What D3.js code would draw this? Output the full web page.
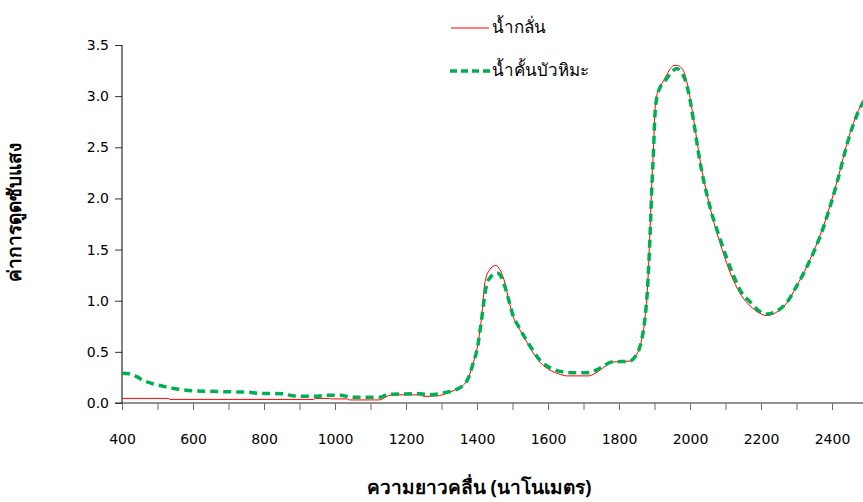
<!DOCTYPE html>
<html>
<head>
<meta charset="utf-8">
<script src="https://cdn.jsdelivr.net/npm/d3@7"></script>
<style>
  body { margin: 0; background: #fff; }
  svg { display: block; }
  .tick text { font-family: "DejaVu Sans", sans-serif; font-size: 14px; fill: #000; }
  .title { font-family: "Noto Sans", "DejaVu Sans", sans-serif; font-weight: bold; font-size: 19px; fill: #000; }
  .legend { font-family: "Noto Sans", "DejaVu Sans", sans-serif; font-size: 17px; fill: #000; }
</style>
</head>
<body>
<script>
// series names (legend)
const seriesNames = ['น้ำกลั่น', 'น้ำคั้นบัวหิมะ'];

// distilled water (red)
const waterNm = [400, 530, 535, 940, 945, 985, 990, 1035, 1040, 1125, 1150, 1165, 1240, 1250, 1290, 1310,
  1340, 1360, 1375, 1390, 1400, 1413, 1422, 1435, 1453, 1465, 1479, 1490, 1502, 1520, 1540, 1560, 1577,
  1606, 1630, 1653, 1714, 1730, 1746, 1765, 1779, 1831, 1845, 1856, 1864, 1873, 1880, 1887, 1893, 1897,
  1901, 1906, 1915, 1930, 1945, 1955, 1965, 1975, 1985, 1995, 2009, 2028, 2056, 2085, 2122, 2145,
  2169, 2195, 2216, 2240, 2272, 2300, 2329, 2376, 2413, 2451, 2488, 2500];
const waterAbs = [0.045, 0.045, 0.035, 0.035, 0.045, 0.045, 0.04, 0.04, 0.03, 0.03, 0.07, 0.08, 0.08, 0.065, 0.07, 0.09,
  0.13, 0.17, 0.24, 0.40, 0.53, 0.84, 1.17, 1.30, 1.345, 1.30, 1.17, 1.00, 0.845, 0.72, 0.60, 0.48, 0.40,
  0.32, 0.285, 0.265, 0.265, 0.285, 0.32, 0.37, 0.40, 0.41, 0.45, 0.52, 0.62, 0.82, 1.10, 1.66, 2.20, 2.48,
  2.84, 3.00, 3.08, 3.18, 3.27, 3.30, 3.30, 3.28, 3.22, 3.08, 2.80, 2.38, 1.92, 1.56, 1.20, 1.05,
  0.95, 0.88, 0.855, 0.88, 0.976, 1.14, 1.335, 1.73, 2.15, 2.64, 2.95, 3.00];

// snow lotus juice (green, dashed)
const juiceNm = [400, 420, 440, 460, 490, 520, 560, 600, 700, 760, 780, 860, 880, 950, 975, 1015, 1050, 1127,
  1150, 1240, 1268, 1300, 1340, 1360, 1375, 1390, 1400, 1413, 1425, 1440, 1457, 1470, 1482, 1502, 1520,
  1540, 1560, 1577, 1606, 1640, 1680, 1714, 1746, 1779, 1831, 1845, 1856, 1864, 1873, 1880, 1887, 1893,
  1897, 1901, 1906, 1915, 1930, 1950, 1962, 1972, 1985, 1997, 2009, 2028, 2056, 2085, 2122, 2145, 2169,
  2195, 2216, 2240, 2272, 2300, 2329, 2376, 2413, 2451, 2488, 2500];
const juiceAbs = [0.29, 0.285, 0.26, 0.22, 0.185, 0.16, 0.135, 0.12, 0.11, 0.105, 0.095, 0.09, 0.07, 0.065, 0.075, 0.075, 0.055, 0.055,
  0.085, 0.09, 0.08, 0.095, 0.13, 0.17, 0.24, 0.40, 0.52, 0.82, 1.12, 1.24, 1.27, 1.22, 1.10, 0.85, 0.73,
  0.61, 0.50, 0.42, 0.345, 0.305, 0.295, 0.295, 0.34, 0.40, 0.41, 0.45, 0.52, 0.62, 0.82, 1.10, 1.60, 2.15,
  2.45, 2.80, 2.98, 3.08, 3.15, 3.24, 3.27, 3.25, 3.17, 3.02, 2.78, 2.36, 1.92, 1.60, 1.25, 1.08, 0.99,
  0.90, 0.87, 0.89, 0.98, 1.14, 1.33, 1.72, 2.14, 2.63, 2.94, 2.99];

const xTickLabels = [400, 600, 800, 1000, 1200, 1400, 1600, 1800, 2000, 2200, 2400];
const yTickLabels = [0, 0.5, 1.0, 1.5, 2.0, 2.5, 3.0, 3.5];

const width = 863, height = 502;
const plotLeft = 122, plotBottom = 403, plotTop = 45;

const svg = d3.select('body').append('svg')
  .attr('width', width)
  .attr('height', height);

const x = d3.scaleLinear().domain([400, 2500]).range([plotLeft, 867.5]);
const y = d3.scaleLinear().domain([0, 3.5]).range([plotBottom, plotTop]);

// x axis: minor ticks every 100, labels every 200
const xAxis = svg.append('g')
  .attr('transform', 'translate(0,' + plotBottom + ')')
  .call(d3.axisBottom(x)
    .tickValues(d3.range(400, 2500, 100))
    .tickSize(7)
    .tickPadding(24)
    .tickFormat(d => xTickLabels.includes(d) ? d : ''));
xAxis.select('.domain').remove();
xAxis.selectAll('.tick line').attr('stroke', '#6e6e6e');
svg.append('line')
  .attr('x1', plotLeft - 7).attr('x2', width)
  .attr('y1', plotBottom).attr('y2', plotBottom)
  .attr('stroke', '#6e6e6e').attr('stroke-width', 1.3);

// y axis
const yAxis = svg.append('g')
  .attr('transform', 'translate(' + plotLeft + ',0)')
  .call(d3.axisLeft(y)
    .tickValues(yTickLabels)
    .tickSize(7)
    .tickPadding(6)
    .tickFormat(d3.format('.1f')));
yAxis.select('.domain').remove();
yAxis.selectAll('.tick line').attr('stroke', '#333');
svg.append('line')
  .attr('x1', plotLeft).attr('x2', plotLeft)
  .attr('y1', plotTop).attr('y2', plotBottom)
  .attr('stroke', '#000').attr('stroke-width', 1);

// lines
const line = d3.line()
  .x(d => x(d[0]))
  .y(d => y(d[1]))
  .curve(d3.curveMonotoneX);

svg.append('path')
  .datum(d3.zip(waterNm, waterAbs))
  .attr('fill', 'none')
  .attr('stroke', '#ff0000')
  .attr('stroke-width', 1)
  .attr('d', line);

svg.append('path')
  .datum(d3.zip(juiceNm, juiceAbs))
  .attr('fill', 'none')
  .attr('stroke', '#00b050')
  .attr('stroke-width', 3.5)
  .attr('stroke-dasharray', '8,5')
  .attr('d', line);

// legend
const legend = svg.append('g');
legend.append('line')
  .attr('x1', 451).attr('x2', 489).attr('y1', 28).attr('y2', 28)
  .attr('stroke', '#ff0000').attr('stroke-width', 1);
legend.append('text').attr('class', 'legend')
  .attr('x', 492).attr('y', 33).text(seriesNames[0]);
legend.append('line')
  .attr('x1', 450).attr('x2', 490).attr('y1', 71).attr('y2', 71)
  .attr('stroke', '#00b050').attr('stroke-width', 3.5)
  .attr('stroke-dasharray', '7,4');
legend.append('text').attr('class', 'legend')
  .attr('x', 492).attr('y', 76).text(seriesNames[1]);

// axis titles
svg.append('text').attr('class', 'title')
  .attr('text-anchor', 'middle')
  .attr('transform', 'translate(21,212) rotate(-90)')
  .text('ค่าการดูดซับแสง');

svg.append('text').attr('class', 'title')
  .attr('text-anchor', 'middle')
  .attr('x', 479).attr('y', 494)
  .text('ความยาวคลื่น (นาโนเมตร)');
</script>
</body>
</html>
